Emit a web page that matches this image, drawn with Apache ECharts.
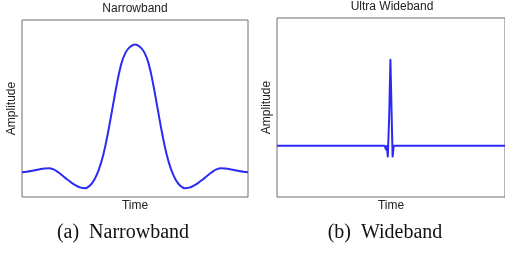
<!DOCTYPE html>
<html>
<head>
<meta charset="utf-8">
<script src="https://cdn.jsdelivr.net/npm/echarts@6/dist/echarts.min.js"></script>
<style>
html,body{margin:0;padding:0;background:#fff;}
#chart{width:505px;height:255px;}
</style>
</head>
<body>
<div id="chart"></div>
<script>
// narrowband pulse (time 0-100, amplitude 0-100)
let nbTime=[0,2,4,6,8,10,12,14,16,18,20,22,24,26,28,30,32,34,36,38,40,42,44,46,48,50,
  52,54,56,58,60,62,64,66,68,70,72,74,76,78,80,82,84,86,88,90,92,94,96,98,100]
let nbAmp=[14.0,14.3,14.7,15.2,15.7,16.1,16.3,15.6,14.0,12.0,9.9,8.0,6.4,5.3,5.0,6.4,9.8,15.5,24,36,50,64,75.5,82,85,86.2,
  85,82,75.5,64,50,36,24,15.5,9.8,6.4,5.0,5.3,6.4,8.0,9.9,12.0,14.0,15.6,16.3,16.1,15.7,15.2,14.7,14.3,14.0]

// ultra wideband pulse
let uwbTime=[0,47.2,47.8,48.2,48.6,48.8,49.2,49.75,50.3,50.7,50.9,51.2,51.6,52.0,100]
let uwbAmp=[28.7,28.7,26.6,28.5,22.6,22.6,45,76.7,45,22.6,22.6,28.7,29.6,28.7,28.7]

let titles=["Narrowband","Ultra Wideband"]
let captions=["(a)  Narrowband","(b)  Wideband"]

let lineColor="#2b2bf5"
let textColor="#222"

function pairs(xs,ys){
  return xs.map((x,i)=>[x,ys[i]])
}

function axisX(idx){
  return {
    type:"value",gridIndex:idx,min:0,max:100,
    name:"Time",nameLocation:"middle",nameGap:3,
    nameTextStyle:{color:textColor,fontSize:12,fontFamily:"Liberation Sans"},
    axisLine:{show:false},axisTick:{show:false},axisLabel:{show:false},splitLine:{show:false}
  }
}
function axisY(idx){
  return {
    type:"value",gridIndex:idx,min:0,max:100,
    name:"Amplitude",nameLocation:"middle",nameGap:4,
    nameTextStyle:{color:textColor,fontSize:12,fontFamily:"Liberation Sans"},
    axisLine:{show:false},axisTick:{show:false},axisLabel:{show:false},splitLine:{show:false}
  }
}

let myChart=echarts.init(document.getElementById("chart"))
myChart.setOption({
  animation:false,
  grid:[
    {left:22,top:20,width:226,height:177,show:true,borderColor:"#6e6e6e",borderWidth:1},
    {left:277,top:18,width:230,height:179,show:true,borderColor:"#6e6e6e",borderWidth:1}
  ],
  xAxis:[axisX(0),axisX(1)],
  yAxis:[axisY(0),axisY(1)],
  series:[
    {
      type:"line",xAxisIndex:0,yAxisIndex:0,
      data:pairs(nbTime,nbAmp),
      smooth:0.4,showSymbol:false,
      lineStyle:{color:lineColor,width:2}
    },
    {
      type:"line",xAxisIndex:1,yAxisIndex:1,
      data:pairs(uwbTime,uwbAmp),
      smooth:false,showSymbol:false,
      lineStyle:{color:lineColor,width:2,join:"round"}
    }
  ],
  graphic:[
    {type:"text",x:135,y:9,style:{text:titles[0],fill:textColor,font:"12px 'Liberation Sans'",align:"center",verticalAlign:"middle"}},
    {type:"text",x:392,y:7,style:{text:titles[1],fill:textColor,font:"12px 'Liberation Sans'",align:"center",verticalAlign:"middle"}},
    {type:"text",x:123,y:233,style:{text:captions[0],fill:"#111",font:"20px 'Liberation Serif'",align:"center",verticalAlign:"middle"}},
    {type:"text",x:385,y:233,style:{text:captions[1],fill:"#111",font:"20px 'Liberation Serif'",align:"center",verticalAlign:"middle"}}
  ]
})
</script>
</body>
</html>
